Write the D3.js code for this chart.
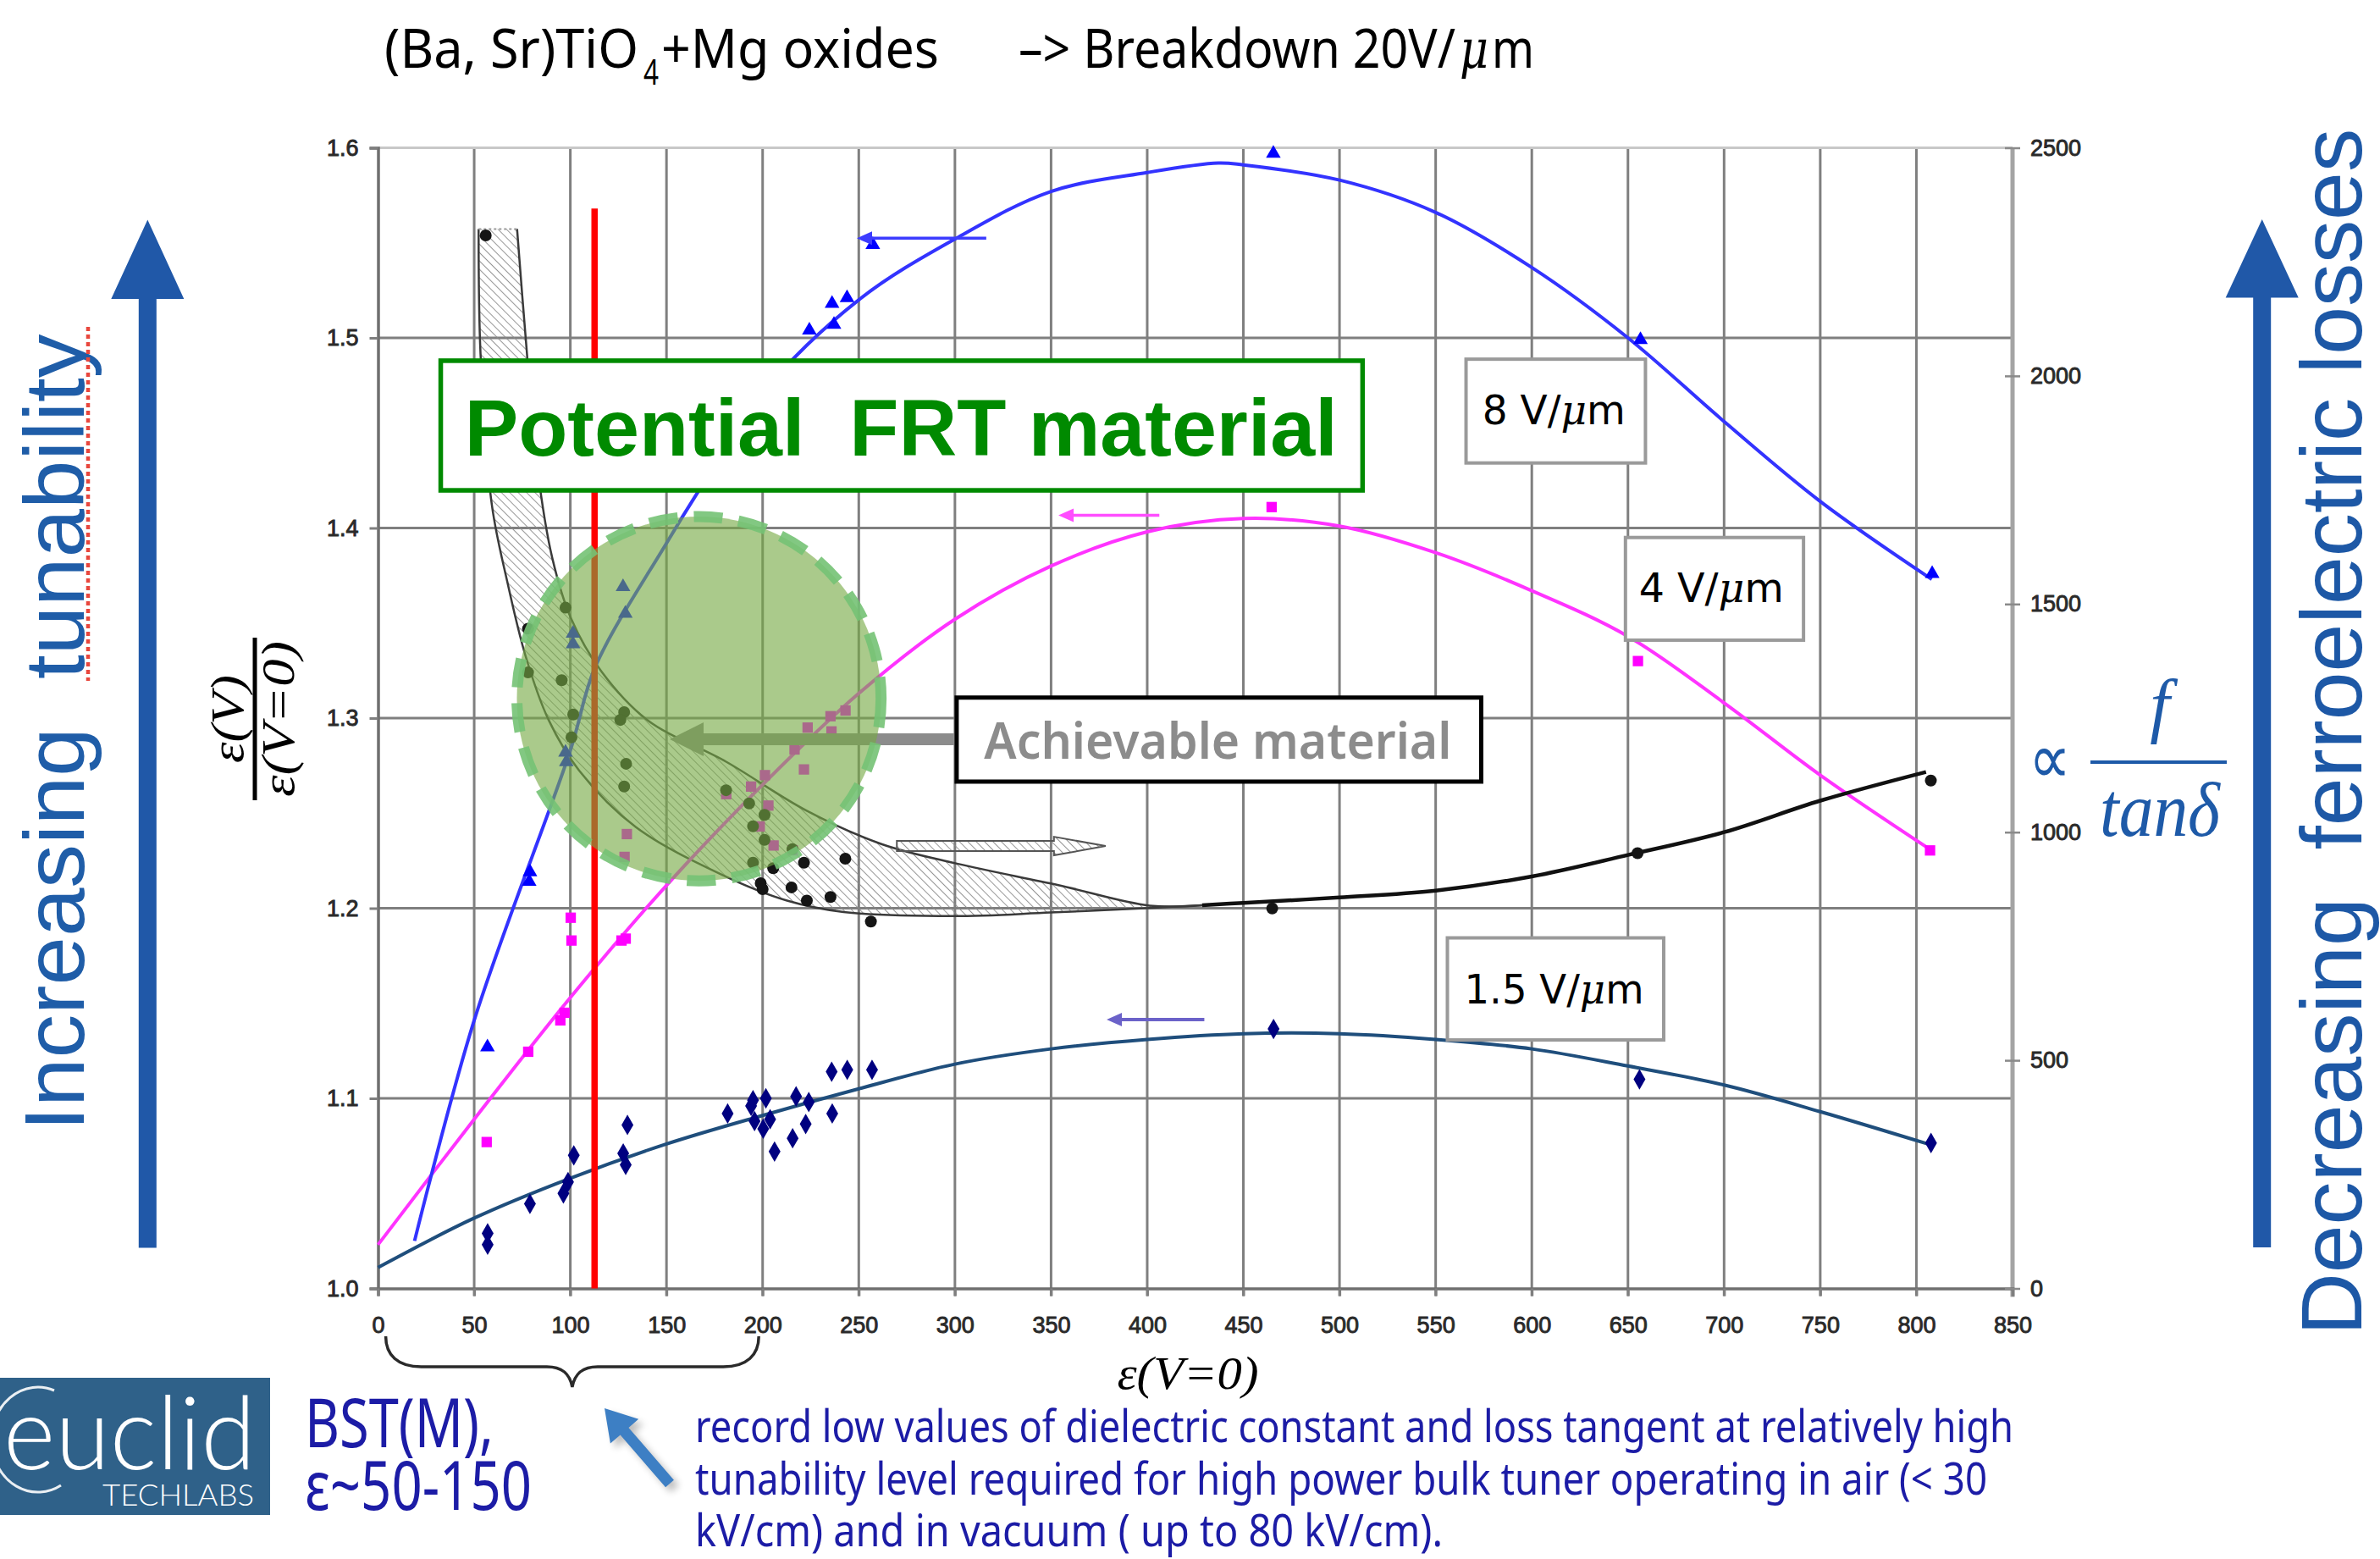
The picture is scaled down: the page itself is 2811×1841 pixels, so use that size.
<!DOCTYPE html>
<html>
<head>
<meta charset="utf-8">
<script src="https://cdn.jsdelivr.net/npm/d3@7"></script>
<style>
  html, body { margin: 0; padding: 0; background: #ffffff; }
  svg { display: block; }
</style>
</head>
<body>
<script>
// ---------- axis ticks ----------
const xTicks = [0, 50, 100, 150, 200, 250, 300, 350, 400, 450, 500, 550, 600, 650, 700, 750, 800, 850];
const leftTicks = [1.0, 1.1, 1.2, 1.3, 1.4, 1.5, 1.6];
const rightTicks = [0, 500, 1000, 1500, 2000, 2500];

// ---------- tunability ε(V)/ε(0) vs ε(0), 8 V/µm ----------
const pts8 = [[56.9,1.127],[79,1.219],[78.6,1.214],[97.9,1.277],[97.5,1.282],[101.4,1.3445],[101.4,1.339],
  [127.4,1.369],[128.6,1.355],[224.3,1.504],[236.1,1.518],[243.9,1.521],[237.1,1.507],[257.3,1.549],
  [465.6,1.597],[656.5,1.499],[808.2,1.376]];
const fit8 = [[19,1.025],[50,1.141],[100,1.283],[113,1.327],[150,1.392],[167,1.420],[200,1.471],[250,1.520],
  [300,1.552],[350,1.577],[400,1.587],[437,1.592],[450,1.591],[500,1.583],[550,1.566],[600,1.537],
  [650,1.500],[700,1.456],[750,1.414],[808,1.373]];

// ---------- 4 V/µm ----------
const pts4 = [[56.5,1.077],[78.1,1.1245],[94.8,1.141],[97,1.145],[100.6,1.183],[100.2,1.195],[126.6,1.183],
  [128.8,1.184],[129.4,1.239],[128.2,1.227],[181.1,1.260],[194,1.264],[201.2,1.270],[203,1.254],[198.5,1.243],
  [205.7,1.233],[215.6,1.2305],[221.5,1.273],[216.6,1.2835],[223.4,1.295],[235.3,1.301],[243.1,1.304],
  [235.8,1.293],[464.7,1.411],[655.2,1.330],[807.1,1.2304]];
const fit4 = [[0,1.023],[50,1.089],[100,1.153],[150,1.212],[200,1.265],[250,1.313],[300,1.352],[350,1.380],
  [400,1.398],[450,1.405],[500,1.401],[550,1.387],[600,1.367],[650,1.343],[700,1.308],[750,1.270],[807,1.231]];

// ---------- 1.5 V/µm ----------
const pts15 = [[57,1.029],[57,1.023],[79,1.0445],[96.4,1.050],[98.8,1.056],[101.8,1.070],[127.5,1.071],
  [128.8,1.065],[129.7,1.086],[181.8,1.092],[194,1.096],[195,1.099],[201.7,1.100],[195.8,1.088],[200.3,1.084],
  [203.9,1.089],[206.2,1.072],[215.6,1.079],[217.4,1.101],[224,1.098],[222.4,1.0865],[235.9,1.114],[244,1.115],
  [236.2,1.092],[256.9,1.115],[465.7,1.1365],[656,1.110],[807.6,1.0765]];
const fit15 = [[0,1.011],[50,1.037],[100,1.058],[150,1.076],[200,1.091],[250,1.105],[300,1.118],[350,1.126],
  [400,1.131],[450,1.134],[500,1.134],[550,1.131],[600,1.126],[650,1.117],[700,1.107],[750,1.093],[806,1.076]];

// ---------- f / tanδ (right axis) ----------
const ptsLoss = [[56,2308],[78,1446],[97.5,1492],[78,1350],[95.5,1333],[101.5,1258],[128,1263],[126,1246],
  [100.6,1208],[129,1150],[128,1100],[181,1092],[193,1063],[201,1038],[195,1013],[201,983],[195,933],
  [205.5,921],[199,888],[200,875],[215.5,963],[221.5,933],[215,879],[223,850],[235.3,858],[243,942],
  [256.3,804],[465,833],[655,954],[807.5,1113]];
const fitLoss = [[428.6,840],[450,845],[500,857],[550,872],[600,903],[650,950],[700,1000],[750,1069],[805,1132]];
const bandUpper = [[72.3,2322],[76.8,2082],[82.8,1800],[90.6,1601],[100.4,1468],[116.2,1352],[140,1246],
  [181.2,1154],[222.5,1048],[261.8,974],[301.1,931],[353.8,884],[401.3,839],[428.6,840]];
const bandLower = [[52.3,2322],[53.3,2048],[59.2,1717],[67.1,1551],[76.8,1385],[88.7,1246],[104.6,1135],
  [134.1,1011],[179.2,906],[212.7,850],[242.1,825],[299.4,816],[349.7,824],[401.3,834],[428.6,840]];

// ---------- page ----------
const W = 2811, H = 1841;
const svg = d3.select('body').append('svg')
  .attr('width', W).attr('height', H)
  .attr('font-family', 'Liberation Sans, Arial, sans-serif');

const x = d3.scaleLinear().domain([0, 850]).range([446.5, 2377]);
const yL = d3.scaleLinear().domain([1.0, 1.6]).range([1521.5, 174.5]);
const yR = d3.scaleLinear().domain([0, 2500]).range([1521.5, 174.5]);

const defs = svg.append('defs');
const hatch = defs.append('pattern').attr('id', 'hatch')
  .attr('patternUnits', 'userSpaceOnUse').attr('width', 7).attr('height', 7)
  .attr('patternTransform', 'rotate(-45)');
hatch.append('line').attr('x1', 0).attr('y1', 0).attr('x2', 0).attr('y2', 7)
  .attr('stroke', '#8a8a8a').attr('stroke-width', 1.8);
defs.append('filter').attr('id', 'soft').append('feGaussianBlur').attr('stdDeviation', 4);

// ---------- grid ----------
const grid = svg.append('g');
xTicks.filter(v => v > 0 && v < 850).forEach(v => {
  grid.append('line').attr('x1', x(v)).attr('x2', x(v))
    .attr('y1', yL(1.0) + 9).attr('y2', yL(1.6))
    .attr('stroke', '#7f7f7f').attr('stroke-width', 3);
});
leftTicks.filter(v => v > 1.0 && v < 1.6).forEach(v => {
  grid.append('line').attr('x1', x(0)).attr('x2', x(850))
    .attr('y1', yL(v)).attr('y2', yL(v))
    .attr('stroke', '#7f7f7f').attr('stroke-width', 3);
});
grid.append('line').attr('x1', x(0)).attr('x2', x(850)).attr('y1', yL(1.6)).attr('y2', yL(1.6))
  .attr('stroke', '#c8c8c8').attr('stroke-width', 3);
grid.append('line').attr('x1', x(850)).attr('x2', x(850)).attr('y1', yL(1.6)).attr('y2', yL(1.0) + 10)
  .attr('stroke', '#a4a4a4').attr('stroke-width', 5);

// ---------- axes ----------
const tickFont = g => g.attr('font-size', 27).attr('font-family', 'Liberation Sans, Arial, sans-serif')
  .call(s => s.selectAll('text').attr('fill', '#2a2a2a').attr('stroke', '#2a2a2a').attr('stroke-width', 0.9));

const axL = svg.append('g').attr('transform', `translate(${x(0)},0)`)
  .call(d3.axisLeft(yL).tickValues(leftTicks).tickFormat(d3.format('.1f')).tickSize(10).tickPadding(13))
  .call(tickFont);
axL.select('.domain').attr('stroke', '#6f6f6f').attr('stroke-width', 3.5);
axL.selectAll('.tick line').attr('stroke', '#7f7f7f').attr('stroke-width', 3);

const axB = svg.append('g').attr('transform', `translate(0,${yL(1.0)})`)
  .call(d3.axisBottom(x).tickValues(xTicks).tickFormat(d3.format('d')).tickSize(9).tickPadding(24))
  .call(tickFont);
axB.select('.domain').attr('stroke', '#6f6f6f').attr('stroke-width', 3.5);
axB.selectAll('.tick line').attr('stroke', '#7f7f7f').attr('stroke-width', 3);

const axR = svg.append('g').attr('transform', `translate(${x(850)},0)`)
  .call(d3.axisRight(yR).tickValues(rightTicks).tickFormat(d3.format('d')).tickSize(9).tickPadding(12))
  .call(tickFont);
axR.select('.domain').remove();
axR.selectAll('.tick').append('line').attr('x1', -9).attr('x2', 0);
axR.selectAll('.tick line').attr('stroke', '#8a8a8a').attr('stroke-width', 2.5);

// ---------- loss band (right axis) ----------
const curve = d3.curveCatmullRom.alpha(0.5);
const lineR = d3.line().x(d => x(d[0])).y(d => yR(d[1])).curve(curve);
const lineL = d3.line().x(d => x(d[0])).y(d => yL(d[1])).curve(curve);

const bandPath = lineR(bandUpper) + 'L' + lineR(bandLower.slice().reverse()).slice(1) + 'Z';
svg.append('path').attr('d', bandPath).attr('fill', 'url(#hatch)');
svg.append('path').attr('d', lineR(bandUpper)).attr('fill', 'none').attr('stroke', '#3a3a3a').attr('stroke-width', 2.5);
svg.append('path').attr('d', lineR(bandLower)).attr('fill', 'none').attr('stroke', '#3a3a3a').attr('stroke-width', 2.5);
svg.append('line')
  .attr('x1', x(bandLower[0][0])).attr('y1', yR(bandLower[0][1]))
  .attr('x2', x(bandUpper[0][0])).attr('y2', yR(bandUpper[0][1]))
  .attr('stroke', '#9a9a9a').attr('stroke-width', 2).attr('stroke-dasharray', '3 3');

// hatched arrow pointing to larger ε
const ha = { x0: 269.8, x1: 351.5, xt: 378.4, y: 1.2327 };
{
  const cy = yL(ha.y);
  const p = [[x(ha.x0), cy - 6], [x(ha.x1), cy - 6], [x(ha.x1), cy - 11], [x(ha.xt), cy],
             [x(ha.x1), cy + 11], [x(ha.x1), cy + 6], [x(ha.x0), cy + 6]];
  svg.append('polygon').attr('points', p.map(d => d.join(',')).join(' '))
    .attr('fill', 'url(#hatch)').attr('stroke', '#555').attr('stroke-width', 2);
}

// ---------- trend lines ----------
svg.append('path').attr('d', lineL(fit15)).attr('fill', 'none').attr('stroke', '#1f4e7c').attr('stroke-width', 4);
svg.append('path').attr('d', lineL(fit4)).attr('fill', 'none').attr('stroke', '#ff33ff').attr('stroke-width', 4);
svg.append('path').attr('d', lineL(fit8)).attr('fill', 'none').attr('stroke', '#3333ff').attr('stroke-width', 4);
svg.append('path').attr('d', lineR(fitLoss)).attr('fill', 'none').attr('stroke', '#111').attr('stroke-width', 4.5);

// ---------- markers ----------
const sym = (type, size) => d3.symbol().type(type).size(size);
svg.append('g').selectAll('path').data(pts15).join('path')
  .attr('d', sym(d3.symbolDiamond, 170)).attr('fill', '#000080')
  .attr('transform', d => `translate(${x(d[0])},${yL(d[1])})`);
svg.append('g').selectAll('path').data(pts4).join('path')
  .attr('d', sym(d3.symbolSquare, 150)).attr('fill', '#ff00ff')
  .attr('transform', d => `translate(${x(d[0])},${yL(d[1])})`);
svg.append('g').selectAll('path').data(pts8).join('path')
  .attr('d', sym(d3.symbolTriangle, 130)).attr('fill', '#0000ff')
  .attr('transform', d => `translate(${x(d[0])},${yL(d[1])})`);
svg.append('g').selectAll('circle').data(ptsLoss).join('circle')
  .attr('cx', d => x(d[0])).attr('cy', d => yR(d[1])).attr('r', 7).attr('fill', '#151515');

// ---------- ε ≈ 112 marker line ----------
const redX = 112.6;
svg.append('line').attr('x1', x(redX)).attr('x2', x(redX))
  .attr('y1', yL(1.0)).attr('y2', yL(1.568))
  .attr('stroke', '#ff0000').attr('stroke-width', 7.5);

// ---------- "Achievable material" pointer ----------
const ga = { tip: 151.7, head: 169.3, tail: 300.9, y: 1.2889 };
{
  const cy = yL(ga.y);
  const p = [[x(ga.tip), cy], [x(ga.head), cy - 20], [x(ga.head), cy - 7], [x(ga.tail), cy - 7],
             [x(ga.tail), cy + 7], [x(ga.head), cy + 7], [x(ga.head), cy + 20]];
  svg.append('polygon').attr('points', p.map(d => d.join(',')).join(' ')).attr('fill', '#8c8c8c');
}

// ---------- target region ----------
const region = { cx: 166.9, cy: 1.3102, rx: 94.7, ry: 0.0958 };
svg.append('ellipse')
  .attr('cx', x(region.cx)).attr('cy', yL(region.cy))
  .attr('rx', x(region.cx + region.rx) - x(region.cx))
  .attr('ry', yL(region.cy) - yL(region.cy + region.ry))
  .attr('fill', '#76a943').attr('fill-opacity', 0.62)
  .attr('stroke', '#74c274').attr('stroke-opacity', 0.9)
  .attr('stroke-width', 13).attr('stroke-dasharray', '34 19');

// ---------- boxed labels ----------
function box(x0, x1, y0, y1, stroke, sw) {
  svg.append('rect').attr('x', x(x0)).attr('y', yL(y0))
    .attr('width', x(x1) - x(x0)).attr('height', yL(y1) - yL(y0))
    .attr('fill', '#fff').attr('stroke', stroke).attr('stroke-width', sw);
}
box(32.6, 512.0, 1.4880, 1.4198, '#008a00', 5.5);
svg.append('text').attr('x', x(45.0)).attr('y', yL(1.4383))
  .attr('font-size', 95).attr('font-weight', 'bold').attr('fill', '#008a00')
  .attr('textLength', 1031).attr('lengthAdjust', 'spacingAndGlyphs')
  .style('white-space', 'pre').text('Potential  FRT material');

box(300.9, 573.7, 1.3108, 1.2666, '#000', 5);
svg.append('text').attr('x', x(315.2)).attr('y', yL(1.2786))
  .attr('font-family', 'Noto Sans, sans-serif').attr('font-size', 60).attr('font-weight', 600)
  .attr('fill', '#8c8c8c').attr('textLength', 552).attr('lengthAdjust', 'spacingAndGlyphs')
  .text('Achievable material');

const fieldLabels = [
  { lead: '8 V/', x0: 565.8, x1: 659.1, y0: 1.4888, y1: 1.4342, tx: 574.3, ty: 1.4547, len: 169 },
  { lead: '4 V/', x0: 648.7, x1: 741.3, y0: 1.3950, y1: 1.3410, tx: 655.7, ty: 1.3609, len: 171 },
  { lead: '1.5 V/', x0: 556.1, x1: 668.6, y0: 1.1844, y1: 1.1307, tx: 564.9, ty: 1.1499, len: 212 }
];
fieldLabels.forEach(f => {
  box(f.x0, f.x1, f.y0, f.y1, '#9a9a9a', 4);
  const t = svg.append('text').attr('x', x(f.tx)).attr('y', yL(f.ty))
    .attr('font-family', 'DejaVu Sans, sans-serif').attr('font-size', 48).attr('fill', '#000')
    .attr('textLength', f.len).attr('lengthAdjust', 'spacingAndGlyphs');
  t.append('tspan').text(f.lead);
  t.append('tspan').attr('font-style', 'italic').attr('font-family', 'DejaVu Serif, serif').text('μ');
  t.append('tspan').text('m');
});

// ---------- axis-side indicators ----------
function leftArrow(xa, xb, yv, color, w) {
  const X0 = x(xa), X1 = x(xb), Y = yL(yv);
  svg.append('line').attr('x1', X0 + 14).attr('x2', X1).attr('y1', Y).attr('y2', Y)
    .attr('stroke', color).attr('stroke-width', w);
  svg.append('polygon').attr('points', `${X0},${Y} ${X0 + 18},${Y - 8} ${X0 + 18},${Y + 8}`).attr('fill', color);
}
leftArrow(249.0, 316.3, 1.5524, '#3c3cff', 3.5);
leftArrow(353.8, 406.3, 1.4067, '#ff4dff', 3.5);
leftArrow(378.9, 429.7, 1.1414, '#6b62c9', 4);

// ---------- title ----------
const titleFont = 'Noto Sans, Open Sans, sans-serif';
{
  const t = svg.append('text').attr('font-family', titleFont).attr('font-size', 64).attr('fill', '#000')
    .attr('lengthAdjust', 'spacingAndGlyphs').style('white-space', 'pre');
  t.append('tspan').attr('x', 454).attr('y', 80).attr('textLength', 300)
    .attr('lengthAdjust', 'spacingAndGlyphs').text('(Ba, Sr)TiO');
  t.append('tspan').attr('x', 760).attr('y', 100).attr('font-size', 42).attr('textLength', 18)
    .attr('lengthAdjust', 'spacingAndGlyphs').text('4');
  t.append('tspan').attr('x', 781).attr('y', 80).attr('textLength', 328)
    .attr('lengthAdjust', 'spacingAndGlyphs').text('+Mg oxides');
  t.append('tspan').attr('x', 1203).attr('y', 80).attr('textLength', 516)
    .attr('lengthAdjust', 'spacingAndGlyphs').text('–> Breakdown 20V/');
  t.append('tspan').attr('x', 1724).attr('font-style', 'italic').attr('font-family', 'DejaVu Serif, serif')
    .attr('textLength', 34).attr('lengthAdjust', 'spacingAndGlyphs').text('μ');
  t.append('tspan').attr('x', 1762).attr('textLength', 50)
    .attr('lengthAdjust', 'spacingAndGlyphs').text('m');
}

// ---------- axis titles ----------
const serif = 'Liberation Serif, Times New Roman, serif';
{
  const g = svg.append('g').attr('transform', 'translate(301,849) rotate(-90)')
    .attr('font-family', serif).attr('font-style', 'italic').attr('font-size', 54).attr('fill', '#000');
  const t = g.append('text').attr('text-anchor', 'middle');
  t.append('tspan').attr('x', 0).attr('y', -14).attr('textLength', 104)
    .attr('lengthAdjust', 'spacingAndGlyphs').text('ε(V)');
  t.append('tspan').attr('x', 0).attr('y', 46).attr('textLength', 184)
    .attr('lengthAdjust', 'spacingAndGlyphs').text('ε(V=0)');
  g.append('line').attr('x1', -96).attr('x2', 96).attr('y1', 0).attr('y2', 0)
    .attr('stroke', '#000').attr('stroke-width', 5);
}
svg.append('text').attr('x', 1403).attr('y', 1640).attr('text-anchor', 'middle')
  .attr('font-family', serif).attr('font-style', 'italic').attr('font-size', 54)
  .attr('textLength', 167).attr('lengthAdjust', 'spacingAndGlyphs').text('ε(V=0)');

// ---------- side arrows and captions ----------
const sideBlue = '#2058a8';
function bigArrow(cx, tipY, baseY, bottomY) {
  const p = [[cx, tipY], [cx + 43, baseY], [cx + 10.5, baseY], [cx + 10.5, bottomY],
             [cx - 10.5, bottomY], [cx - 10.5, baseY], [cx - 43, baseY]];
  svg.append('polygon').attr('points', p.map(d => d.join(',')).join(' ')).attr('fill', sideBlue);
}
bigArrow(174.3, 259.4, 353, 1473.6);
bigArrow(2671.7, 259, 351.4, 1473);

svg.append('text').attr('transform', 'translate(99,1335.6) rotate(-90)')
  .attr('font-size', 100).attr('fill', '#1f5da8')
  .attr('textLength', 941).attr('lengthAdjust', 'spacingAndGlyphs')
  .style('white-space', 'pre').text('Increasing  tunability');
svg.append('line').attr('x1', 104).attr('x2', 104).attr('y1', 386).attr('y2', 804)
  .attr('stroke', '#e8463c').attr('stroke-width', 4.5).attr('stroke-dasharray', '5 4');

svg.append('text').attr('transform', 'translate(2789,1577) rotate(-90)')
  .attr('font-size', 102).attr('fill', '#1d58a6')
  .attr('textLength', 1425).attr('lengthAdjust', 'spacingAndGlyphs')
  .style('white-space', 'pre').text('Decreasing  ferroelectric losses');

// ∝ f / tanδ
{
  const g = svg.append('g').attr('fill', '#1e5aa8').attr('font-family', serif);
  g.append('text').attr('x', 2396).attr('y', 925).attr('font-family', 'DejaVu Sans, sans-serif')
    .attr('font-size', 84).attr('textLength', 50).attr('lengthAdjust', 'spacingAndGlyphs').text('∝');
  g.append('line').attr('x1', 2469).attr('x2', 2630).attr('y1', 900).attr('y2', 900)
    .attr('stroke', '#1e5aa8').attr('stroke-width', 4);
  const fr = g.append('text').attr('font-style', 'italic');
  fr.append('tspan').attr('x', 2551).attr('y', 861).attr('text-anchor', 'middle')
    .attr('font-size', 84).text('f');
  fr.append('tspan').attr('x', 2480).attr('y', 987).attr('font-size', 92)
    .attr('textLength', 142).attr('lengthAdjust', 'spacingAndGlyphs').text('tanδ');
}

// ---------- footer ----------
// brace spanning ε(0) = 0..200
{
  const a = x(4), b = x(198), m = (a + b) / 2;
  const d = `M${a},1578 C${a},1600 ${a + 14},1614 ${a + 42},1614 L${m - 30},1614 C${m - 12},1614 ${m - 3},1622 ${m},1638 ` +
            `C${m + 3},1622 ${m + 12},1614 ${m + 30},1614 L${b - 42},1614 C${b - 14},1614 ${b},1600 ${b},1578`;
  svg.append('path').attr('d', d).attr('fill', 'none').attr('stroke', '#2a2a2a').attr('stroke-width', 3.5);
}

// pointer from the note to the brace
{
  const tx = 714, ty = 1663, sx = 791, sy = 1752;
  const ang = Math.atan2(ty - sy, tx - sx);
  const ux = Math.cos(ang), uy = Math.sin(ang), px = -uy, py = ux;
  const hb = [tx - ux * 36, ty - uy * 36];
  const p = [[tx, ty], [hb[0] + px * 22, hb[1] + py * 22], [hb[0] + px * 6.5, hb[1] + py * 6.5],
             [sx + px * 6.5, sy + py * 6.5], [sx - px * 6.5, sy - py * 6.5],
             [hb[0] - px * 6.5, hb[1] - py * 6.5], [hb[0] - px * 22, hb[1] - py * 22]];
  const pts = p.map(d => d.join(',')).join(' ');
  svg.append('polygon').attr('points', pts).attr('fill', '#000').attr('opacity', 0.25)
    .attr('transform', 'translate(6,6)').attr('filter', 'url(#soft)');
  svg.append('polygon').attr('points', pts).attr('fill', '#3d7fc4');
}

// logo
svg.append('rect').attr('x', 0).attr('y', 1627).attr('width', 319).attr('height', 162).attr('fill', '#2f6189');
svg.append('path').attr('d', 'M64,1642 A55,62 0 1,0 72,1754')
  .attr('fill', 'none').attr('stroke', '#ffffff').attr('stroke-width', 3).attr('opacity', 0.9);
{
  const t = svg.append('text').attr('font-family', 'Lato, Open Sans, sans-serif')
    .attr('font-weight', 300).attr('fill', '#fff');
  t.append('tspan').attr('x', 4).attr('y', 1735).attr('font-size', 120)
    .attr('textLength', 298).attr('lengthAdjust', 'spacingAndGlyphs').text('euclid');
  t.append('tspan').attr('x', 121).attr('y', 1778).attr('font-size', 36)
    .attr('textLength', 179).attr('lengthAdjust', 'spacingAndGlyphs').text('TECHLABS');
}

const noteBlue = '#1c1ca6';
{
  const t = svg.append('text').attr('font-family', titleFont).attr('font-size', 80).attr('fill', noteBlue);
  t.append('tspan').attr('x', 360).attr('y', 1709).attr('textLength', 223)
    .attr('lengthAdjust', 'spacingAndGlyphs').text('BST(M),');
  t.append('tspan').attr('x', 360).attr('y', 1783).attr('textLength', 268)
    .attr('lengthAdjust', 'spacingAndGlyphs').text('ε~50-150');
}

const noteLines = [
  { text: 'record low values of dielectric constant and loss tangent at relatively high', y: 1703, len: 1557 },
  { text: 'tunability level required for high power bulk tuner operating in air (< 30', y: 1765, len: 1526 },
  { text: 'kV/cm) and in vacuum ( up to 80 kV/cm).', y: 1826, len: 883 }
];
{
  const t = svg.append('text').attr('font-family', titleFont).attr('font-size', 53).attr('fill', noteBlue);
  t.selectAll('tspan').data(noteLines).join('tspan')
    .attr('x', 821).attr('y', d => d.y)
    .attr('textLength', d => d.len).attr('lengthAdjust', 'spacingAndGlyphs')
    .text(d => d.text);
}
</script>
</body>
</html>
